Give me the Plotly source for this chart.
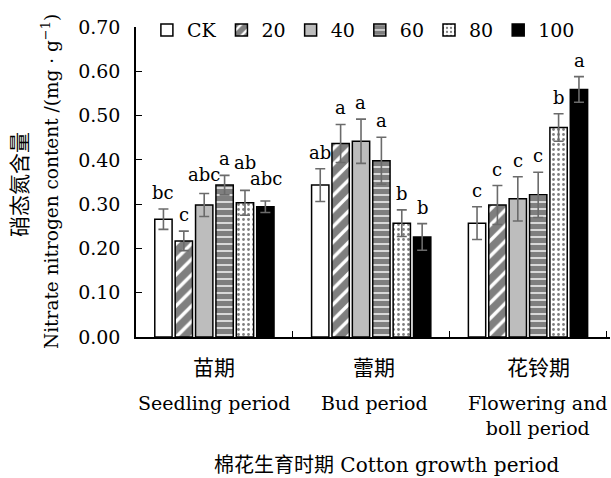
import plotly.graph_objects as go

periods = ["苗期", "蕾期", "花铃期"]
periods_en = ["Seedling period", "Bud period", "Flowering and<br>boll period"]
treatments = ["CK", "20", "40", "60", "80", "100"]

vals_CK = [0.266, 0.343, 0.257]
vals_20 = [0.217, 0.437, 0.298]
vals_40 = [0.298, 0.442, 0.312]
vals_60 = [0.343, 0.398, 0.321]
vals_80 = [0.303, 0.257, 0.473]
vals_100 = [0.294, 0.226, 0.559]

err_CK = [0.023, 0.037, 0.037]
err_20 = [0.022, 0.043, 0.044]
err_40 = [0.026, 0.050, 0.050]
err_60 = [0.022, 0.053, 0.051]
err_80 = [0.028, 0.030, 0.031]
err_100 = [0.013, 0.030, 0.029]

sig_CK = ["bc", "ab", "c"]
sig_20 = ["c", "a", "c"]
sig_40 = ["abc", "a", "c"]
sig_60 = ["a", "a", "c"]
sig_80 = ["ab", "b", "b"]
sig_100 = ["abc", "b", "a"]

values = [vals_CK, vals_20, vals_40, vals_60, vals_80, vals_100]
errors = [err_CK, err_20, err_40, err_60, err_80, err_100]
sigs = [sig_CK, sig_20, sig_40, sig_60, sig_80, sig_100]

# extra vertical lift (px) for crowded letter labels: (series index, period index) -> px
label_lift = {(2, 0): 3, (4, 0): 11, (5, 0): 6}

SERIF = "DejaVu Serif, Noto Sans CJK SC"
styles = [
    dict(color="white", pattern=dict(shape="")),
    dict(color="white", pattern=dict(shape="/", fgcolor="black", bgcolor="white", size=11, solidity=0.7)),
    dict(color="#bdbdbd", pattern=dict(shape="")),
    dict(color="white", pattern=dict(shape="-", fgcolor="black", bgcolor="white", size=7, solidity=0.8)),
    dict(color="white", pattern=dict(shape=".", fgcolor="black", bgcolor="white", size=5, solidity=0.25)),
    dict(color="black", pattern=dict(shape="")),
]

fig = go.Figure()
for name, v, e, st in zip(treatments, values, errors, styles):
    fig.add_trace(go.Bar(
        name=name, x=periods, y=v,
        marker=dict(color=st["color"], line=dict(color="black", width=1.5), pattern=st["pattern"]),
        error_y=dict(type="data", array=e, color="#6b6b6b", thickness=1.6, width=5),
    ))

L, R, T, B = 136, 1, 27, 141
W, H = 611, 478
bargap = 0.22
cat_px = (W - L - R) / len(periods)
slot_px = cat_px * (1 - bargap) / len(treatments)

annotations = []
for i, (v, e, s) in enumerate(zip(values, errors, sigs)):
    for j in range(len(periods)):
        annotations.append(dict(
            x=periods[j], y=v[j] + e[j], xref="x", yref="y", text=s[j],
            showarrow=False, xanchor="center", yanchor="bottom",
            xshift=(i - (len(treatments) - 1) / 2) * slot_px, yshift=4 + label_lift.get((i, j), 0),
            font=dict(family=SERIF, size=18, color="black")))

xshift_lbl = [0, 3, 10]
for j in range(len(periods)):
    annotations.append(dict(x=periods[j], y=0, xref="x", yref="paper", text=periods[j],
                            showarrow=False, yanchor="middle", yshift=-31, xshift=xshift_lbl[j],
                            font=dict(family=SERIF, size=21, color="black")))
    annotations.append(dict(x=periods[j], y=0, xref="x", yref="paper", text=periods_en[j],
                            showarrow=False, yanchor="top", yshift=-53, xshift=xshift_lbl[j],
                            font=dict(family=SERIF, size=19, color="black")))
annotations.append(dict(x=0.5, y=0, xref="paper", yref="paper", xshift=13, yshift=-128,
                        text="棉花生育时期 Cotton growth period", showarrow=False, yanchor="middle",
                        font=dict(family=SERIF, size=20, color="black")))
annotations.append(dict(x=0, y=0.5, xref="paper", yref="paper", xshift=-116, yshift=-3,
                        text="硝态氮含量", textangle=-90, showarrow=False,
                        xanchor="center", yanchor="middle",
                        font=dict(family=SERIF, size=21, color="black")))
annotations.append(dict(x=0, y=0.5, xref="paper", yref="paper", xshift=-86,
                        text="Nitrate nitrogen content /(mg · g<sup>−1</sup>)", textangle=-90,
                        showarrow=False, xanchor="center", yanchor="middle",
                        font=dict(family=SERIF, size=18.5, color="black")))

fig.update_layout(
    width=W, height=H,
    margin=dict(l=L, r=R, t=T, b=B),
    paper_bgcolor="white", plot_bgcolor="white",
    barmode="group", bargap=bargap, bargroupgap=0.15,
    font=dict(family=SERIF, size=18, color="black"),
    showlegend=True,
    legend=dict(orientation="h", x=0.023, xanchor="left", y=0.99, yanchor="middle",
                bgcolor="rgba(0,0,0,0)", font=dict(size=19), traceorder="normal",
                itemwidth=30),
    annotations=annotations,
)
fig.update_xaxes(showline=True, linecolor="black", linewidth=1.5, ticks="inside",
                 tickson="boundaries", ticklen=6, tickcolor="black", showticklabels=False,
                 showgrid=False, zeroline=False)
fig.update_yaxes(range=[0, 0.70], dtick=0.1, tickformat=".2f", showline=True, linecolor="black",
                 linewidth=1.5, ticks="inside", ticklen=6, tickcolor="black", showgrid=False,
                 zeroline=False, ticklabelstandoff=10, tickfont=dict(size=19))

fig.write_html("out.html", config={"displayModeBar": False},
               post_script="document.body.style.margin='0';")
